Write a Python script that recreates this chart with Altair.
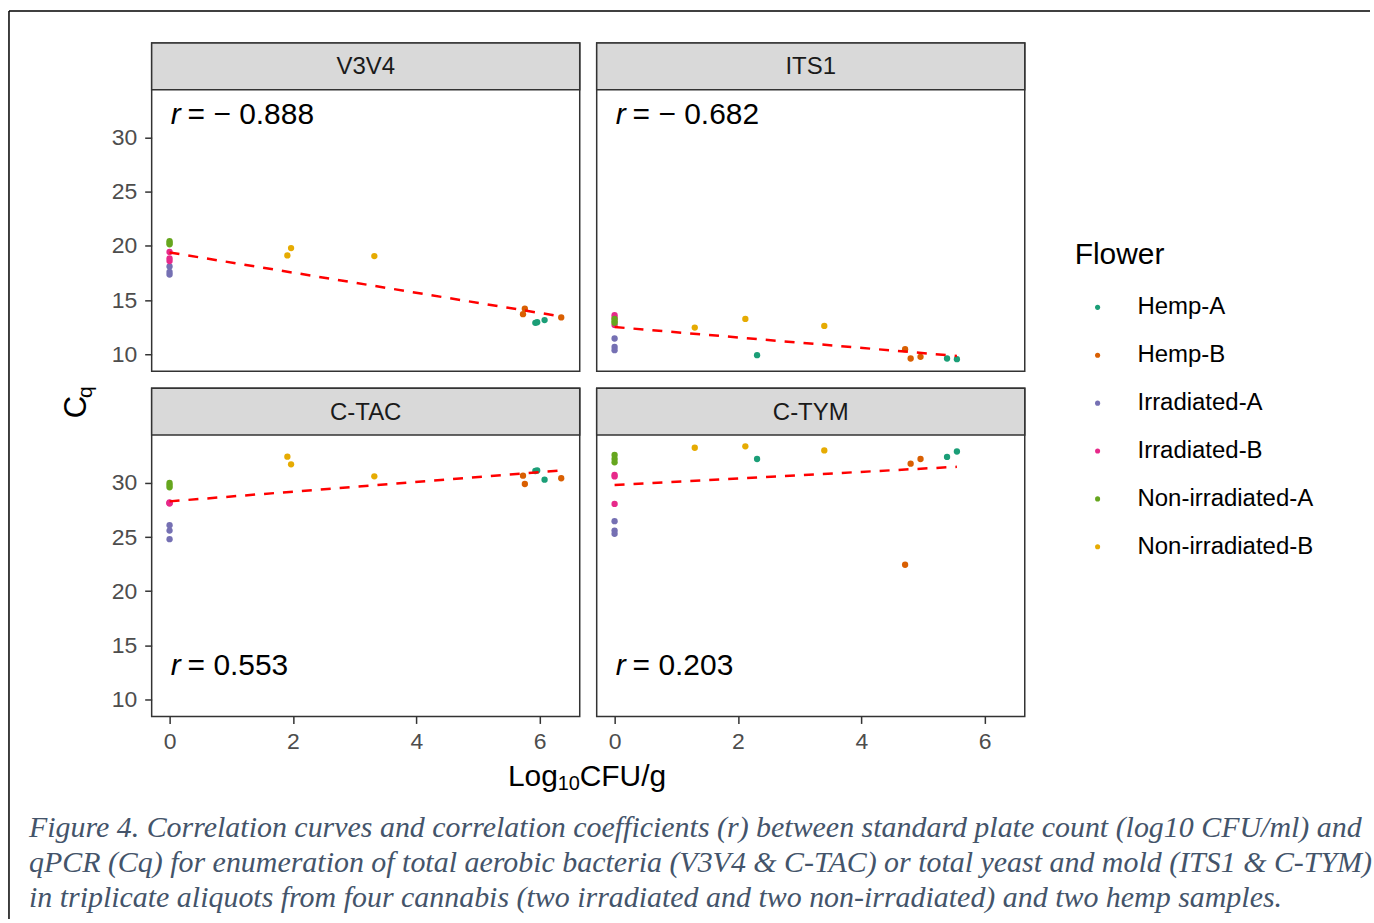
import altair as alt
import pandas as pd

samples = ["Hemp-A", "Hemp-B", "Irradiated-A", "Irradiated-B", "Non-irradiated-A", "Non-irradiated-B"]
colors = ["#1B9E77", "#D95F02", "#7570B3", "#E7298A", "#66A61E", "#E6AB02"]

# log10 CFU/g for each of the 3 aliquots per sample (sample order as above)
bact_x = [5.93, 5.96, 6.08, 5.76, 5.73, 6.35, 0, 0, 0, 0, 0, 0, 0, 0, 0, 1.91, 1.97, 3.32]
yeast_x = [2.31, 5.39, 5.55, 4.71, 4.80, 4.96, 0, 0, 0, 0, 0, 0, 0, 0, 0, 1.30, 2.12, 3.40]

v3v4_cq = [12.9, 12.95, 13.15, 14.2, 13.7, 13.4, 18.1, 17.6, 17.35, 19.45, 18.85, 18.6,
           20.45, 20.3, 20.15, 19.12, 19.8, 19.06]
its1_cq = [9.91, 9.6, 9.54, 10.46, 9.6, 9.76, 11.45, 10.67, 10.37, 13.6, 13.35, 12.7,
           13.25, 13.05, 12.9, 12.46, 13.26, 12.61]
ctac_cq = [31.1, 31.15, 30.3, 29.9, 30.67, 30.43, 26.1, 25.6, 24.8, 28.2, 28.15, 28.1,
           30.0, 29.8, 29.6, 32.42, 31.72, 30.61]
ctym_cq = [32.21, 32.4, 32.9, 22.44, 31.78, 32.21, 26.47, 25.6, 25.3, 30.75, 30.6, 28.06,
           32.58, 32.21, 31.9, 33.25, 33.38, 33.0]

panel_names = ["V3V4", "ITS1", "C-TAC", "C-TYM"]
r_labels = ["= \u2212 0.888", "= \u2212 0.682", "= 0.553", "= 0.203"]
y_ticks = [10, 15, 20, 25, 30]
x_ticks = [0, 2, 4, 6]

caption_lines = [
    "Figure 4. Correlation curves and correlation coefficients (r) between standard plate count (log10 CFU/ml) and",
    "qPCR (Cq) for enumeration of total aerobic bacteria (V3V4 & C-TAC) or total yeast and mold (ITS1 & C-TYM)",
    "in triplicate aliquots from four cannabis (two irradiated and two non-irradiated) and two hemp samples.",
]

W, H, STRIP = 429, 329, 47
FONT = "Liberation Sans"
one = pd.DataFrame({"a": [0]})

legend = alt.Legend(
    title="Flower", orient="none", legendX=925, legendY=198,
    titleFontSize=30, titleFontWeight="normal", titleColor="black", titleFont=FONT,
    labelFontSize=24, labelColor="black", labelFont=FONT, labelLimit=400,
    symbolType="circle", symbolSize=26, symbolStrokeWidth=0,
    rowPadding=24, titlePadding=25, symbolOffset=11, labelOffset=28,
)


def panel(name, xs, cqs, rlabel, top, left, extras=()):
    df = pd.DataFrame({
        "x": xs, "cq": cqs,
        "sample": [s for s in samples for _ in range(3)],
    })
    base = alt.Chart(df)
    xscale = alt.Scale(domain=[-0.29, 6.65], nice=False, zero=False)
    yscale = alt.Scale(domain=[8.43, 34.42], range=[H, STRIP], nice=False, zero=False)
    if top:
        xaxis = None
    else:
        xaxis = alt.Axis(values=x_ticks, format="d", tickSize=7, tickColor="#333333", tickWidth=1.5,
                         labelFontSize=23, labelColor="#4D4D4D", labelPadding=7, labelFont=FONT,
                         domain=False, grid=False, title="")
    if left:
        yaxis = alt.Axis(values=y_ticks, format="d", tickSize=7, tickColor="#333333", tickWidth=1.5,
                         labelFontSize=23, labelColor="#4D4D4D", labelPadding=8, labelFont=FONT,
                         domain=False, grid=False, title="")
    else:
        yaxis = None
    x_enc = alt.X("x:Q", scale=xscale, axis=xaxis)
    y_enc = alt.Y("cq:Q", scale=yscale, axis=yaxis)

    strip = alt.Chart(one).mark_rect(fill="#D9D9D9", stroke="#333333", strokeWidth=1.5).encode(
        x=alt.value(0), x2=alt.value(W), y=alt.value(0), y2=alt.value(STRIP))
    strip_txt = alt.Chart(one).mark_text(fontSize=24, color="#1A1A1A", font=FONT, baseline="middle",
                                         align="center").encode(
        x=alt.value(W / 2), y=alt.value(STRIP / 2 + 1), text=alt.value(name))
    pts = base.mark_circle(size=40, opacity=1).encode(
        x=x_enc, y=y_enc,
        color=alt.Color("sample:N", scale=alt.Scale(domain=samples, range=colors), legend=legend))
    line = base.transform_regression("x", "cq").mark_line(
        color="#FF0000", strokeDash=[10, 9], strokeWidth=2.5).encode(x=x_enc, y=y_enc)
    ry = 81 if top else 287
    r1 = alt.Chart(one).mark_text(fontSize=30, fontStyle="italic", font=FONT, color="black",
                                  align="left", baseline="alphabetic").encode(
        x=alt.value(19), y=alt.value(ry), text=alt.value("r"))
    r2 = alt.Chart(one).mark_text(fontSize=30, font=FONT, color="black",
                                  align="left", baseline="alphabetic").encode(
        x=alt.value(36), y=alt.value(ry), text=alt.value(rlabel))
    layers = [strip, strip_txt, pts, line, r1, r2] + list(extras)
    return alt.layer(*layers).properties(width=W, height=H)


# decorations drawn relative to the bottom-left panel origin
deco = []
deco.append(alt.Chart(one).mark_rule(color="black", strokeWidth=1.5).encode(
    x=alt.value(-143), y=alt.value(-378), y2=alt.value(532)))
deco.append(alt.Chart(one).mark_rule(color="black", strokeWidth=1.5).encode(
    x=alt.value(-143), x2=alt.value(1221), y=alt.value(-378)))
for i, line_txt in enumerate(caption_lines):
    deco.append(alt.Chart(one).mark_text(font="Liberation Serif", fontStyle="italic", fontSize=30,
                                         color="#44546A", align="left", baseline="alphabetic").encode(
        x=alt.value(-123), y=alt.value(450 + 35 * i), text=alt.value(line_txt)))
deco.append(alt.Chart(one).mark_text(font=FONT, fontSize=31, angle=270, align="center",
                                     baseline="middle", color="black").encode(
    x=alt.value(-75), y=alt.value(19), text=alt.value("C")))
deco.append(alt.Chart(one).mark_text(font=FONT, fontSize=21, angle=270, align="center",
                                     baseline="middle", color="black").encode(
    x=alt.value(-66), y=alt.value(4), text=alt.value("q")))
deco.append(alt.Chart(one).mark_text(font=FONT, fontSize=30, align="left",
                                     baseline="alphabetic", color="black").encode(
    x=alt.value(357), y=alt.value(399), text=alt.value("Log")))
deco.append(alt.Chart(one).mark_text(font=FONT, fontSize=20, align="left",
                                     baseline="alphabetic", color="black").encode(
    x=alt.value(407), y=alt.value(403), text=alt.value("10")))
deco.append(alt.Chart(one).mark_text(font=FONT, fontSize=30, align="left",
                                     baseline="alphabetic", color="black").encode(
    x=alt.value(429), y=alt.value(399), text=alt.value("CFU/g")))

tl = panel("V3V4", bact_x, v3v4_cq, r_labels[0], top=True, left=True)
tr = panel("ITS1", yeast_x, its1_cq, r_labels[1], top=True, left=False)
bl = panel("C-TAC", bact_x, ctac_cq, r_labels[2], top=False, left=True, extras=deco)
br = panel("C-TYM", yeast_x, ctym_cq, r_labels[3], top=False, left=False)

chart = alt.concat(tl, tr, bl, br, columns=2, spacing=17, bounds="flush").properties(
    padding={"left": 7, "top": 8, "right": 0, "bottom": 0},
    background="white",
).configure(font=FONT).configure_view(stroke="#333333", strokeWidth=1.5)

chart.save("out.html", embed_options={"renderer": "svg", "actions": False})
